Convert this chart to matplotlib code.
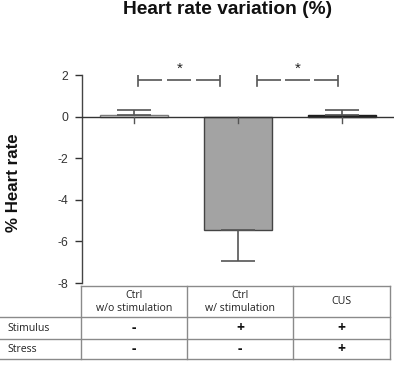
import matplotlib
matplotlib.use("Agg")
import matplotlib.pyplot as plt
from matplotlib.lines import Line2D

# ---- data ----
categories = ["Ctrl\nw/o stimulation", "Ctrl\nw/ stimulation", "CUS"]
values = [0.08, -5.45, 0.07]
errors = [0.22, 1.5, 0.23]
bar_faces = ["#ffffff", "#a3a3a3", "#1e1e1e"]
bar_edges = ["#7a7a7a", "#444444", "#1e1e1e"]
yticks = [2, 0, -2, -4, -6, -8]
stimulus = ["-", "+", "+"]
stress = ["-", "-", "+"]
row_labels = ["Stimulus", "Stress"]
# significance brackets: (x start, x end, label) in category units
signif = [(0.04, 0.83, "*"), (1.18, 1.965, "*")]
signif_y = 1.76

W, H = 394, 365
fig = plt.figure(figsize=(W / 100, H / 100), dpi=100)
plt.rcParams["font.family"] = ["Liberation Sans", "DejaVu Sans"]

def fx(px):
    return px / W

def fy(py):
    return 1 - py / H

ax = fig.add_axes([fx(82), fy(283), fx(394) - fx(82), fy(75) - fy(283)])
x = list(range(len(categories)))
ax.set_xlim(-0.5, len(categories) - 0.5)
ax.set_ylim(-8, 2)

for i in x:
    ax.bar(i, values[i], width=0.66, color=bar_faces[i], edgecolor=bar_edges[i],
           linewidth=1.0, zorder=2)
    sign = 1 if values[i] >= 0 else -1
    lo = [[0], [errors[i]]] if sign > 0 else [[errors[i]], [0]]
    ax.errorbar(i, values[i], yerr=lo, fmt="none", ecolor="#555555",
                elinewidth=1.2, capsize=12.5, capthick=1.2, zorder=3)

# zero axis with downward ticks
ax.axhline(0, color="#333333", linewidth=1.0, zorder=4)
ax.spines[["top", "right", "bottom"]].set_visible(False)
ax.spines["left"].set_color("#444444")
ax.spines["left"].set_linewidth(1.0)
ax.set_xticks([])
for i in x:
    ax.plot([i, i], [0, -0.33], color="#555555", linewidth=1.0, zorder=4,
            clip_on=False)

ax.set_yticks(yticks)
ax.set_yticklabels([str(t) for t in yticks])
ax.tick_params(axis="y", direction="out", length=5, width=1.0, pad=5,
               labelsize=8.8, colors="#333333", labelcolor="#333333")

# significance brackets
for x0, x1, lab in signif:
    L = x1 - x0
    gap = 0.045
    seg = (L - 2 * gap) / 3
    for k in range(3):
        s = x0 + k * (seg + gap)
        ax.plot([s, s + seg], [signif_y, signif_y], color="#555555", lw=1.2,
                solid_capstyle="butt")
    for xe in (x0, x1):
        ax.plot([xe, xe], [signif_y - 0.27, signif_y + 0.27], color="#555555", lw=1.2)
    ax.text((x0 + x1) / 2, signif_y + 0.2, lab, ha="center", va="bottom",
            fontsize=11, color="#222222")

# title and y label
fig.text(fx(227.5), fy(14), "Heart rate variation (%)", ha="center", va="baseline",
         fontsize=13.8, fontweight="bold", color="#111111")
fig.text(fx(14), fy(182.5), "% Heart rate", ha="center", va="center", rotation=90,
         fontsize=12.2, fontweight="bold", color="#111111")

# ---- table ----
cols = [81, 187.3, 292.7, 390]
rows = [285.7, 317.3, 339, 359]
tc = "#8a8a8a"
tlw = 1.0

def hline(y, xa, xb):
    fig.add_artist(Line2D([fx(xa), fx(xb)], [fy(y), fy(y)], color=tc, lw=tlw))

def vline(xp, ya, yb):
    fig.add_artist(Line2D([fx(xp), fx(xp)], [fy(ya), fy(yb)], color=tc, lw=tlw))

hline(rows[0], cols[0], cols[-1])
for r in rows[1:]:
    hline(r, 0, cols[-1])
for c in cols:
    vline(c, rows[0], rows[-1])

tfont = ["Open Sans", "DejaVu Sans"]
for i, cat in enumerate(categories):
    cx = (cols[i] + cols[i + 1]) / 2
    fig.text(fx(cx), fy((rows[0] + rows[1]) / 2 + 0.5), cat, ha="center", va="center",
             fontsize=7.6, family=tfont, color="#222222", linespacing=1.15)
    fig.text(fx(cx), fy((rows[1] + rows[2]) / 2), stimulus[i], ha="center",
             va="center", fontsize=10, fontweight="bold", family=tfont, color="#111111")
    fig.text(fx(cx), fy((rows[2] + rows[3]) / 2), stress[i], ha="center",
             va="center", fontsize=10, fontweight="bold", family=tfont, color="#111111")

for j, lab in enumerate(row_labels):
    fig.text(fx(7), fy((rows[j + 1] + rows[j + 2]) / 2), lab, ha="left", va="center",
             fontsize=7.6, family=tfont, color="#222222")

fig.savefig("out.png", dpi=100)
